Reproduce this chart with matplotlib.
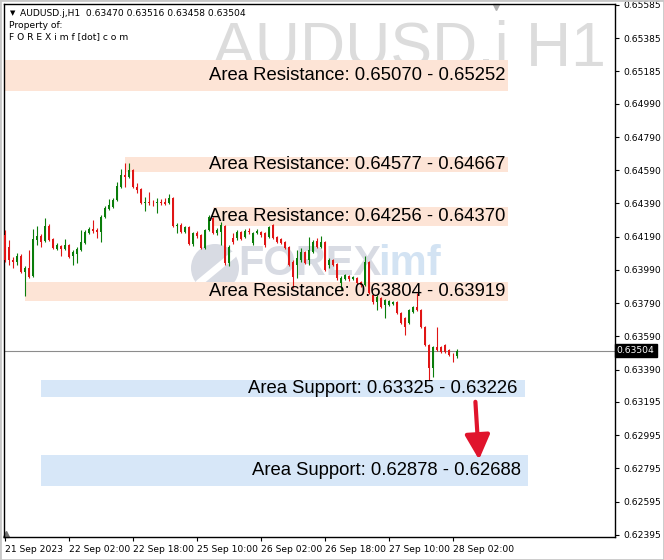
import matplotlib
matplotlib.use('Agg')
import matplotlib.pyplot as plt
from matplotlib.patches import Rectangle, Circle
from matplotlib.transforms import blended_transform_factory, IdentityTransform

# H1 candles, 21 Sep 10:00 -> 28 Sep 03:00
opens = [0.64200, 0.64128, 0.64050, 0.64038, 0.64074, 0.63978, 0.64002, 0.63954, 0.64170, 0.64194,
         0.64164, 0.64254, 0.64176, 0.64116, 0.64134, 0.64116, 0.64140, 0.64074, 0.64086, 0.64110,
         0.64152, 0.64212, 0.64236, 0.64230, 0.64218, 0.64309, 0.64357, 0.64369, 0.64411, 0.64489,
         0.64562, 0.64550, 0.64592, 0.64489, 0.64477, 0.64393, 0.64399, 0.64399, 0.64393, 0.64399,
         0.64399, 0.64393, 0.64423, 0.64254, 0.64260, 0.64218, 0.64248, 0.64146, 0.64212, 0.64200,
         0.64122, 0.64230, 0.64303, 0.64212, 0.64218, 0.64254, 0.64032, 0.64182, 0.64182, 0.64218,
         0.64188, 0.64224, 0.64152, 0.64212, 0.64218, 0.64212, 0.64188, 0.64260, 0.64188, 0.64176,
         0.64158, 0.64128, 0.64038, 0.64020, 0.64050, 0.64098, 0.64050, 0.64098, 0.64164, 0.64128,
         0.64158, 0.64020, 0.64050, 0.64026, 0.63911, 0.63935, 0.63954, 0.63935, 0.63941, 0.63917,
         0.63899, 0.64038, 0.63839, 0.63797, 0.63821, 0.63779, 0.63779, 0.63785, 0.63797, 0.63731,
         0.63701, 0.63670, 0.63737, 0.63767, 0.63749, 0.63646, 0.63538, 0.63400, 0.63526, 0.63526,
         0.63538, 0.63508, 0.63478, 0.63470]
highs = [0.64230, 0.64170, 0.64068, 0.64092, 0.64086, 0.64014, 0.64110, 0.64236, 0.64254, 0.64206,
         0.64303, 0.64267, 0.64182, 0.64152, 0.64140, 0.64176, 0.64146, 0.64110, 0.64128, 0.64230,
         0.64230, 0.64248, 0.64291, 0.64242, 0.64321, 0.64375, 0.64417, 0.64423, 0.64519, 0.64598,
         0.64634, 0.64634, 0.64598, 0.64513, 0.64483, 0.64429, 0.64459, 0.64411, 0.64423, 0.64417,
         0.64423, 0.64447, 0.64429, 0.64272, 0.64272, 0.64254, 0.64254, 0.64218, 0.64224, 0.64206,
         0.64236, 0.64321, 0.64309, 0.64242, 0.64279, 0.64260, 0.64140, 0.64212, 0.64230, 0.64224,
         0.64236, 0.64242, 0.64218, 0.64236, 0.64224, 0.64218, 0.64254, 0.64267, 0.64194, 0.64182,
         0.64164, 0.64134, 0.64050, 0.64110, 0.64122, 0.64104, 0.64188, 0.64170, 0.64182, 0.64194,
         0.64164, 0.64062, 0.64056, 0.64032, 0.63954, 0.63966, 0.63960, 0.63954, 0.63948, 0.63923,
         0.64074, 0.64044, 0.63845, 0.63839, 0.63827, 0.63815, 0.63809, 0.63803, 0.63803, 0.63737,
         0.63707, 0.63755, 0.63773, 0.63851, 0.63755, 0.63652, 0.63544, 0.63532, 0.63646, 0.63532,
         0.63544, 0.63514, 0.63490, 0.63516]
lows = [0.64038, 0.64020, 0.64002, 0.64020, 0.63972, 0.63833, 0.63941, 0.63948, 0.64140, 0.64128,
        0.64158, 0.64164, 0.64116, 0.64110, 0.64074, 0.64110, 0.64062, 0.64020, 0.64032, 0.64104,
        0.64146, 0.64206, 0.64212, 0.64182, 0.64158, 0.64303, 0.64351, 0.64363, 0.64405, 0.64483,
        0.64489, 0.64543, 0.64483, 0.64453, 0.64387, 0.64345, 0.64381, 0.64375, 0.64333, 0.64381,
        0.64381, 0.64387, 0.64248, 0.64212, 0.64212, 0.64212, 0.64140, 0.64134, 0.64182, 0.64116,
        0.64116, 0.64224, 0.64206, 0.64200, 0.64140, 0.64020, 0.64014, 0.64146, 0.64170, 0.64170,
        0.64182, 0.64206, 0.64140, 0.64206, 0.64188, 0.64128, 0.64182, 0.64176, 0.64152, 0.64146,
        0.64116, 0.64014, 0.63881, 0.63941, 0.64038, 0.64026, 0.64020, 0.64092, 0.64122, 0.64122,
        0.63984, 0.64002, 0.64014, 0.63929, 0.63869, 0.63929, 0.63923, 0.63929, 0.63905, 0.63887,
        0.63893, 0.63845, 0.63785, 0.63749, 0.63761, 0.63701, 0.63773, 0.63779, 0.63725, 0.63664,
        0.63598, 0.63664, 0.63731, 0.63743, 0.63640, 0.63532, 0.63327, 0.63345, 0.63502, 0.63490,
        0.63490, 0.63472, 0.63436, 0.63458]
closes = [0.64050, 0.64050, 0.64038, 0.64074, 0.63978, 0.64002, 0.63948, 0.64176, 0.64194, 0.64158,
          0.64254, 0.64170, 0.64122, 0.64140, 0.64116, 0.64140, 0.64068, 0.64098, 0.64116, 0.64158,
          0.64218, 0.64236, 0.64224, 0.64218, 0.64309, 0.64363, 0.64381, 0.64411, 0.64495, 0.64562,
          0.64550, 0.64592, 0.64489, 0.64471, 0.64393, 0.64399, 0.64393, 0.64396, 0.64399, 0.64393,
          0.64387, 0.64423, 0.64254, 0.64260, 0.64218, 0.64248, 0.64146, 0.64212, 0.64194, 0.64122,
          0.64230, 0.64309, 0.64212, 0.64230, 0.64260, 0.64032, 0.64128, 0.64158, 0.64218, 0.64176,
          0.64224, 0.64218, 0.64212, 0.64224, 0.64200, 0.64140, 0.64248, 0.64182, 0.64158, 0.64152,
          0.64122, 0.64020, 0.63948, 0.64062, 0.64098, 0.64032, 0.64110, 0.64158, 0.64128, 0.64158,
          0.63990, 0.64050, 0.64020, 0.63941, 0.63941, 0.63960, 0.63935, 0.63948, 0.63911, 0.63899,
          0.64038, 0.63851, 0.63797, 0.63827, 0.63767, 0.63809, 0.63803, 0.63797, 0.63731, 0.63670,
          0.63646, 0.63749, 0.63767, 0.63749, 0.63646, 0.63538, 0.63400, 0.63526, 0.63508, 0.63496,
          0.63496, 0.63478, 0.63475, 0.63504]

time_labels = ['21 Sep 2023', '22 Sep 02:00', '22 Sep 18:00', '25 Sep 10:00',
               '26 Sep 02:00', '26 Sep 18:00', '27 Sep 10:00', '28 Sep 02:00']
price_ticks = [0.65585, 0.65385, 0.65185, 0.64990, 0.64790, 0.64590, 0.64390, 0.64190, 0.63990,
               0.63790, 0.63590, 0.63390, 0.63195, 0.62995, 0.62795, 0.62595, 0.62395]

zone_kind = ['Resistance', 'Resistance', 'Resistance', 'Resistance', 'Support', 'Support']
zone_low = [0.65070, 0.64577, 0.64256, 0.63804, 0.63226, 0.62688]
zone_high = [0.65252, 0.64667, 0.64370, 0.63919, 0.63325, 0.62878]
zone_start = [0, 30, 52, 5, 9, 9]

last_price = 0.63504

fig = plt.figure(figsize=(6.64, 5.6), dpi=100)
ax = fig.add_axes([4 / 664, 23 / 560, 611 / 664, 533 / 560])
ax.set_xlim(-0.25, 152.5)
ax.set_ylim(0.62382, 0.65591)

# watermark
ax.text(0.985, 0.8837, 'AUDUSD.j H1', transform=ax.transAxes, ha='right', va='baseline',
        fontsize=45, color='#dcdcdc', family='Liberation Sans', zorder=0)
ax.add_patch(Circle((215, 560 - 268), 24, transform=IdentityTransform(),
                    facecolor='#d8dbe3', edgecolor='none', zorder=0.5))
ax.plot([199, 233], [560 - 283, 560 - 255], transform=IdentityTransform(),
        color='white', lw=5, zorder=0.6, solid_capstyle='round')
ax.text(0.383, 0.512, 'FOREX', transform=ax.transAxes, ha='left', va='center',
        fontsize=30, fontweight='bold', color='#d8dbe3', family='Liberation Sans', zorder=0.5)
ax.text(0.612, 0.512, 'imf', transform=ax.transAxes, ha='left', va='center',
        fontsize=30, fontweight='bold', color='#d3e3f3', family='Liberation Sans', zorder=0.5)

# zones
for kind, lo, hi, x0 in zip(zone_kind, zone_low, zone_high, zone_start):
    if kind == 'Resistance':
        fc, x1, tx = '#fde4d6', 125.75, 125.0
        label = f'Area Resistance: {lo:.5f} - {hi:.5f}'
    else:
        fc, x1, tx = '#d7e7f8', 130.0 if lo > 0.63 else 130.75, 128.0 if lo > 0.63 else 129.0
        label = f'Area Support: {hi:.5f} - {lo:.5f}'
    ax.add_patch(Rectangle((x0, lo), x1 - x0, hi - lo, facecolor=fc, edgecolor='none', zorder=1))
    ax.text(tx, (lo + hi) / 2, label, ha='right', va='center', fontsize=13.3,
            family='Liberation Sans', color='black', zorder=5)

# current price line
ax.axhline(last_price, color='#8c8c8c', lw=0.8, zorder=2)

# candles
for i, (o, h, l, c) in enumerate(zip(opens, highs, lows, closes)):
    col = '#0a7d0a' if c >= o else '#e01515'
    ax.vlines(i, l, h, color=col, lw=0.8, zorder=3)
    ax.bar(i, max(abs(c - o), 0.000015), bottom=min(o, c), width=0.72, color=col,
           linewidth=0, zorder=3)

# arrow to the lower support
ax.annotate('', xy=(118.5, zone_high[5] - 0.0003), xytext=(117.6, zone_low[4] - 0.0003),
            arrowprops=dict(arrowstyle='-|>,head_length=0.75,head_width=0.38',
                            mutation_scale=20, color='#e0142c', lw=3, shrinkA=0, shrinkB=0),
            zorder=4)

# axes styling
for s in ax.spines.values():
    s.set_color('black')
    s.set_linewidth(1)
ax.yaxis.tick_right()
ax.set_yticks(price_ticks)
ax.set_yticklabels([f'{p:.5f}' for p in price_ticks], fontsize=6.6, family='DejaVu Sans')
ax.tick_params(axis='y', direction='out', length=3, pad=3, width=0.8)
ax.set_xticks(range(0, 16 * len(time_labels), 16))
ax.set_xticklabels(time_labels, fontsize=6.6, family='DejaVu Sans', ha='left')
ax.tick_params(axis='x', direction='out', length=3, pad=3, width=0.8)

ax.text(1.003, last_price, f'{last_price:.5f}', transform=blended_transform_factory(ax.transAxes, ax.transData),
        ha='left', va='center', fontsize=6.6, color='white', family='DejaVu Sans',
        bbox=dict(boxstyle='square,pad=0.2', facecolor='black', edgecolor='black'), clip_on=False)

# header
ax.text(0.01, 0.982, '\u25bc', transform=ax.transAxes, fontsize=5, va='center', ha='left')
ax.text(0.027, 0.982, 'AUDUSD.j,H1  0.63470 0.63516 0.63458 0.63504', transform=ax.transAxes,
        fontsize=6.6, va='center', ha='left', family='DejaVu Sans')
ax.text(0.008, 0.96, 'Property of:', transform=ax.transAxes, fontsize=6.6, va='center', ha='left',
        family='DejaVu Sans')
ax.text(0.008, 0.938, 'F O R E X i m f [dot] c o m', transform=ax.transAxes, fontsize=6.6,
        va='center', ha='left', family='DejaVu Sans')

# little MT4 markers
ax.plot([0.003], [0.005], marker='^', color='#707070', ms=4, transform=ax.transAxes, clip_on=False)
ax.plot([0.805], [0.995], marker='v', color='#b0b0b0', ms=4, transform=ax.transAxes, clip_on=False)

fig.patches.append(Rectangle((0, 0), 1, 1, transform=fig.transFigure, fill=False,
                             edgecolor='#c8c8c8', lw=2))

fig.savefig('out.png', dpi=100)
